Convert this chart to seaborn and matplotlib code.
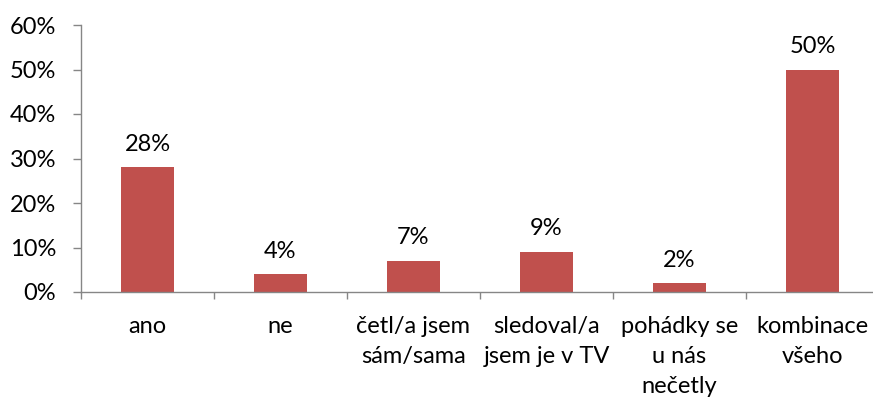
import matplotlib
matplotlib.use("Agg")
import matplotlib.pyplot as plt
import seaborn as sns
import pandas as pd
from matplotlib.ticker import FixedLocator, PercentFormatter

categories = ["ano", "ne", "četl/a jsem\nsám/sama", "sledoval/a\njsem je v TV",
              "pohádky se\nu nás\nnečetly", "kombinace\nvšeho"]
values = [28, 4, 7, 9, 2, 50]
value_labels = ["28%", "4%", "7%", "9%", "2%", "50%"]
y_ticks = [0, 10, 20, 30, 40, 50, 60]

sns.set_theme(style="white")
plt.rcParams["font.family"] = ["Lato", "DejaVu Sans"]

FS = 17

fig = plt.figure(figsize=(8.73, 4.01), dpi=100)
ax = fig.add_axes([81 / 873, (401 - 292) / 401, 798 / 873, 267 / 401])

df = pd.DataFrame({"cat": categories, "val": values})
sns.barplot(data=df, x="cat", y="val", color="#C0504D", width=0.4,
            saturation=1, edgecolor="none", ax=ax)

ax.set_xlim(-0.5, 5.5)
ax.set_ylim(0, 60)
ax.set_yticks(y_ticks)
ax.yaxis.set_major_formatter(PercentFormatter(decimals=0))
ax.set_xlabel("")
ax.set_ylabel("")

spine_col = "#868686"
for s in ["top", "right"]:
    ax.spines[s].set_visible(False)
for s in ["left", "bottom"]:
    ax.spines[s].set_color(spine_col)
    ax.spines[s].set_linewidth(1.0)

ax.tick_params(axis="y", which="major", length=6, color=spine_col, width=1,
               labelsize=FS, pad=12, labelcolor="black", left=True)
ax.tick_params(axis="x", which="major", length=0, labelsize=FS, pad=17,
               labelcolor="black")
ax.xaxis.set_minor_locator(FixedLocator([i - 0.5 for i in range(7)]))
ax.tick_params(axis="x", which="minor", length=5, color=spine_col, width=1,
               bottom=True)
for lab in ax.get_xticklabels():
    lab.set_linespacing(1.55)
    lab.set_va("top")

for i, (v, t) in enumerate(zip(values, value_labels)):
    ax.annotate(t, (i, v), xytext=(0, 9), textcoords="offset points",
                ha="center", va="bottom", fontsize=FS, color="black")

fig.savefig("out.png", dpi=100)
